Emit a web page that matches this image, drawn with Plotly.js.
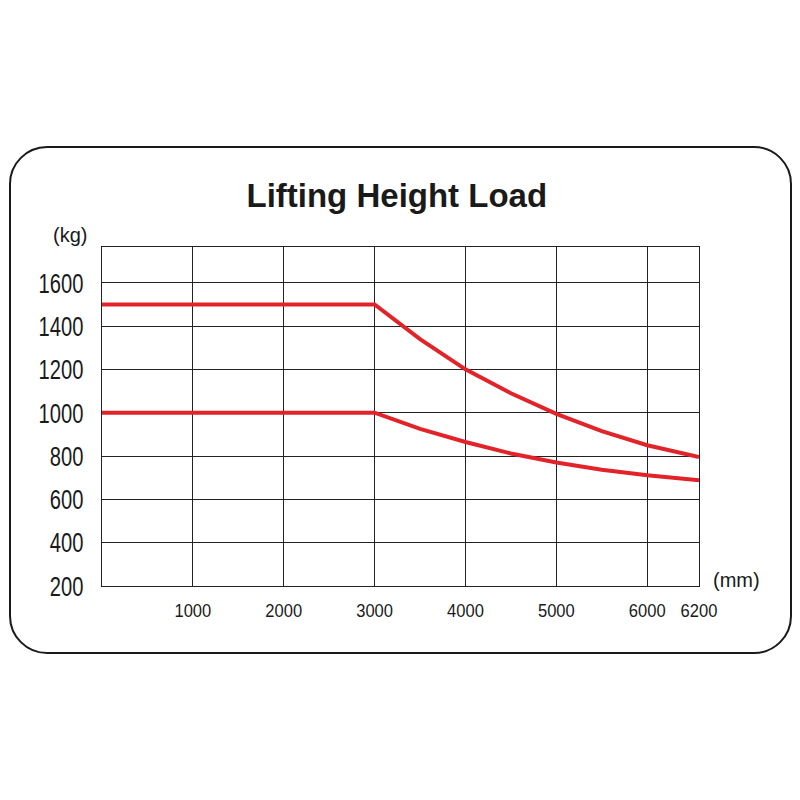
<!DOCTYPE html>
<html>
<head>
<meta charset="utf-8">
<script src="https://cdn.plot.ly/plotly-3.0.1.min.js"></script>
<style>
  body { margin: 0; background: #fff; }
  #box {
    position: absolute; left: 9px; top: 146px; width: 779px; height: 504px;
    border: 2.5px solid #1a1a1a; border-radius: 38px;
  }
  #chart { position: absolute; left: 0; top: 0; width: 800px; height: 800px; }
</style>
</head>
<body>
<div id="box"></div>
<div id="chart"></div>
<script>
document.addEventListener('DOMContentLoaded', function () {
    // lifting height (mm) and rated load (kg)
    var heights = [0, 3000, 3500, 4000, 4500, 5000, 5500, 6000, 6200];
    var loadHigh = [1500, 1500, 1340, 1200, 1090, 995, 915, 850, 795];
    var loadLow = [1000, 1000, 925, 865, 812, 770, 737, 711, 688];

    var xTicks = [1000, 2000, 3000, 4000, 5000, 6000, 6200];
    var yTicks = [200, 400, 600, 800, 1000, 1200, 1400, 1600];

    // the drawing squeezes 6000-6200 into a wider last column
    function xpos(h) {
        return h <= 6000 ? h : 6000 + (h - 6000) * 570 / 200;
    }

    var red = '#e2242a';

    var trace1 = {
        x: heights.map(xpos),
        y: loadHigh,
        mode: 'lines',
        line: { color: red, width: 4 },
        hoverinfo: 'skip'
    };

    var trace2 = {
        x: heights.map(xpos),
        y: loadLow,
        mode: 'lines',
        line: { color: red, width: 4 },
        hoverinfo: 'skip'
    };

    var grid = '#222';
    var sans = '"Liberation Sans", Arial, sans-serif';

    var layout = {
        width: 800,
        height: 800,
        margin: { l: 102, r: 101, t: 247, b: 214 },
        paper_bgcolor: 'rgba(0,0,0,0)',
        plot_bgcolor: 'rgba(0,0,0,0)',
        showlegend: false,
        title: {
            text: '<b>Lifting Height Load</b>',
            font: { family: sans, size: 33, color: '#1a1a1a' },
            xref: 'container', yref: 'container',
            x: 0.496, y: 0.756, xanchor: 'center', yanchor: 'middle'
        },
        xaxis: {
            range: [0, xpos(6200)],
            tickvals: xTicks.map(xpos),
            ticktext: xTicks.map(String),
            showgrid: true,
            gridcolor: grid,
            gridwidth: 1,
            showline: true,
            mirror: true,
            linecolor: grid,
            linewidth: 1,
            zeroline: false,
            ticks: '',
            ticklabelstandoff: 8,
            tickfont: { family: sans, size: 18, color: '#1a1a1a' }
        },
        yaxis: {
            range: [200, 1765],
            tickvals: yTicks,
            ticktext: yTicks.map(String),
            showgrid: true,
            gridcolor: grid,
            gridwidth: 1,
            showline: true,
            mirror: true,
            linecolor: grid,
            linewidth: 1,
            zeroline: false,
            ticks: '',
            ticklabelstandoff: 12,
            tickfont: { family: sans, size: 28, color: '#1a1a1a' }
        },
        annotations: [
            {
                text: '(kg)', xref: 'paper', yref: 'paper',
                x: -0.0544, y: 1.034, xanchor: 'center', yanchor: 'middle',
                showarrow: false,
                font: { family: sans, size: 20, color: '#1a1a1a' }
            },
            {
                text: '(mm)', xref: 'paper', yref: 'paper',
                x: 1.063, y: 0.018, xanchor: 'center', yanchor: 'middle',
                showarrow: false,
                font: { family: sans, size: 20, color: '#1a1a1a' }
            }
        ]
    };

    // squeeze tick labels sideways like the condensed type of the original
    function condense(sel, sx) {
        document.querySelectorAll(sel).forEach(function (t) {
            var x = parseFloat(t.getAttribute('x')) || 0;
            var y = parseFloat(t.getAttribute('y')) || 0;
            var tr = t.getAttribute('transform') || '';
            t.setAttribute('transform', tr + ' translate(' + x + ',' + y + ') scale(' + sx + ',1) translate(' + (-x) + ',' + (-y) + ')');
        });
    }

    Plotly.newPlot('chart', [trace1, trace2], layout, { staticPlot: true }).then(function () {
        condense('#chart .ytick text', 0.72);
        condense('#chart .xtick text', 0.92);
    });
});
</script>
</body>
</html>
